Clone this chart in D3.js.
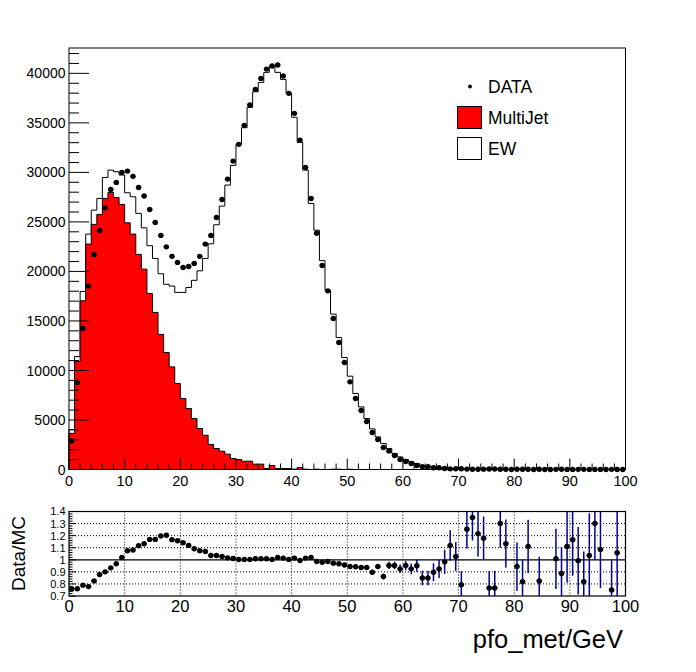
<!DOCTYPE html>
<html>
<head>
<meta charset="utf-8">
<script src="https://cdn.jsdelivr.net/npm/d3@7"></script>
<style>
  body { margin: 0; background: #fff; }
  text { font-family: "Liberation Sans", Arial, sans-serif; fill: #000; }
</style>
</head>
<body>
<div id="chart"></div>
<script>
//////////////////////////////////////////////////////////////////////////////
// Data (one value per 1 GeV bin, 0..100)

var binEdges = [0, 100];
var nBins = 100;

var dataCounts = [
  2890, 8790, 14240, 18520, 21720, 24140, 26420, 28280, 28990, 30000,
  30130, 29600, 28480, 27610, 26260, 24950, 23640, 22480, 21520, 20910,
  20400, 20500, 20810, 21520, 22760, 23640, 25450, 27270, 29320, 31140,
  32830, 34750, 36800, 38380, 39490, 40430, 40740, 40840, 39730, 37980,
  35960, 33260, 30500, 27370, 23860, 20600, 18040, 15250, 12830, 10810,
  8850, 7170, 5960, 4850, 3740, 3030, 2220, 1880, 1410, 1010,
  810, 610, 400, 280, 280, 180, 170, 105, 66, 70,
  70, 42, 30, 30, 33, 50, 50, 26, 25, 0,
  25, 30, 20, 0, 25, 0, 0, 16, 20, 11,
  12, 13, 16, 8, 12, 10, 0, 16, 6, 0
];

var multiJetCounts = [
  3650, 10900, 17030, 22760, 24750, 25760, 27370, 27980, 27470, 26770,
  24910, 23770, 21720, 20230, 17780, 15860, 13640, 11820, 10360, 8690,
  7170, 6160, 5150, 4140, 3460, 2520, 2120, 1850, 1550, 1110,
  1010, 840, 840, 540, 540, 100, 400, 100, 100, 100,
  30, 200, 30, 0, 30, 0, 0, 30, 30, 0,
  30, 0, 0, 0, 0, 0, 0, 0, 0, 0,
  0, 0, 0, 0, 0, 0, 0, 0, 0, 0,
  0, 0, 0, 0, 0, 0, 0, 0, 0, 0,
  0, 0, 0, 0, 0, 0, 0, 0, 0, 0,
  0, 0, 0, 0, 0, 0, 0, 0, 0, 0
];

var ewCounts = [
  390, 500, 950, 1010, 1440, 1610, 2120, 2250, 2590, 2960,
  3030, 3770, 4140, 4170, 4820, 5450, 6120, 6880, 8160, 9190,
  10710, 12220, 13950, 15920, 17850, 20270, 22590, 24750, 27170, 29600,
  31820, 33670, 35730, 37600, 38550, 40000, 40370, 40000, 39290, 37880,
  35530, 32830, 30200, 26860, 24130, 21090, 18110, 15660, 13300, 11310,
  9390, 7680, 6320, 5150, 4100, 3290, 2620, 2120, 1620, 1270,
  1010, 770, 600, 330, 330, 220, 180, 110, 60, 70,
  90, 35, 22, 25, 28, 65, 65, 20, 22, 10,
  27, 37, 18, 10, 30, 8, 8, 16, 23, 10,
  10, 13, 20, 8, 9, 9, 5, 21, 6, 4
];

// Data/MC ratio and its error (null = no point drawn)
var ratioValues = [
  0.758, 0.76, 0.79, 0.778, 0.825, 0.878, 0.9, 0.933, 0.967, 1.019,
  1.075, 1.081, 1.117, 1.133, 1.169, 1.169, 1.197, 1.203, 1.167, 1.158,
  1.141, 1.119, 1.091, 1.075, 1.069, 1.036, 1.036, 1.027, 1.016, 1.011,
  1.003, 1.003, 1.003, 1.008, 1.008, 1.008, 1.003, 1.019, 1.014, 1.003,
  1.014, 0.994, 1.014, 1.019, 0.986, 0.98, 0.986, 0.972, 0.967, 0.957,
  0.944, 0.942, 0.936, 0.936, 0.897, 0.944, 0.861, 0.953, 0.953, 0.925,
  0.953, 0.925, 0.95, 0.85, 0.85, 0.897, 0.925, 0.983, 1.119, 1.028,
  0.794, 1.253, 1.35, 1.217, 1.178, 0.767, 0.767, 1.3, 1.133, null,
  0.944, 0.819, 1.111, null, 0.825, null, null, 1.008, 0.886, 1.111,
  1.167, 0.992, 0.819, 1.036, 1.3, 1.086, null, 0.75, 1.058, null
];

var ratioErrors = [
  0.01, 0.01, 0.01, 0.01, 0.01, 0.01, 0.01, 0.01, 0.01, 0.01,
  0.01, 0.01, 0.01, 0.01, 0.01, 0.01, 0.01, 0.01, 0.01, 0.01,
  0.01, 0.01, 0.01, 0.01, 0.01, 0.01, 0.01, 0.01, 0.01, 0.01,
  0.01, 0.01, 0.01, 0.01, 0.01, 0.01, 0.01, 0.01, 0.01, 0.01,
  0.01, 0.01, 0.01, 0.01, 0.01, 0.01, 0.01, 0.01, 0.01, 0.012,
  0.015, 0.015, 0.015, 0.018, 0.02, 0.02, 0.025, 0.03, 0.03, 0.035,
  0.04, 0.045, 0.05, 0.06, 0.06, 0.075, 0.075, 0.1, 0.125, 0.12,
  0.11, 0.16, 0.19, 0.19, 0.18, 0.14, 0.14, 0.2, 0.2, null,
  0.2, 0.18, 0.22, null, 0.2, null, null, 0.25, 0.22, 0.3,
  0.3, 0.28, 0.25, 0.35, 0.3, 0.32, null, 0.25, 0.4, null
];

var mainYTicks = [0, 5000, 10000, 15000, 20000, 25000, 30000, 35000, 40000];
var xTicks = [0, 10, 20, 30, 40, 50, 60, 70, 80, 90, 100];
var ratioYTicks = [0.7, 0.8, 0.9, 1, 1.1, 1.2, 1.3, 1.4];
var ratioGridY = [0.8, 0.9, 1.1, 1.2, 1.3];
var ratioGridX = [10, 20, 30, 40, 50, 60, 70, 80, 90];

var legendEntries = ["DATA", "MultiJet", "EW"];

//////////////////////////////////////////////////////////////////////////////
// Preliminaries

var width = 696, height = 672;
var blue = "#000099";

var xScale = d3.scaleLinear().domain(binEdges).range([69, 625.5]);
var yScale = d3.scaleLinear().domain([0, 42560]).range([469.5, 48]);
var rScale = d3.scaleLinear().domain([0.7, 1.4]).range([596, 511.5]);

var bins = d3.range(nBins).map(function(i) {
    return {
        lo: i, hi: i + 1, mid: i + 0.5,
        data: dataCounts[i],
        mj: multiJetCounts[i],
        total: multiJetCounts[i] + ewCounts[i],
        ratio: ratioValues[i],
        rerr: ratioErrors[i]
    };
});

var svg = d3.select("#chart")
    .append("svg")
    .attr("width", width)
    .attr("height", height);

svg.append("rect")
    .attr("width", width)
    .attr("height", height)
    .attr("fill", "#fff");

function stepArea(accessor, yS) {
    var pts = bins.map(function(d) { return [d.lo, accessor(d)]; });
    pts.push([100, accessor(bins[nBins - 1])]);
    return d3.area()
        .curve(d3.curveStepAfter)
        .x(function(p) { return xScale(p[0]); })
        .y0(yS(0))
        .y1(function(p) { return yS(p[1]); })(pts);
}

//////////////////////////////////////////////////////////////////////////////
// Main panel: stacked histograms + data

var main = svg.append("g");

main.append("path")
    .attr("d", stepArea(function(d) { return d.total; }, yScale))
    .attr("fill", "#fff")
    .attr("stroke", "#000")
    .attr("stroke-width", 1);

main.append("path")
    .attr("d", stepArea(function(d) { return d.mj; }, yScale))
    .attr("fill", "#ff0000")
    .attr("stroke", "#000")
    .attr("stroke-width", 1);

main.append("g")
    .selectAll("line")
    .data(bins)
    .enter()
    .append("line")
    .attr("x1", function(d) { return xScale(d.lo); })
    .attr("x2", function(d) { return xScale(d.hi); })
    .attr("y1", function(d) { return yScale(d.data); })
    .attr("y2", function(d) { return yScale(d.data); })
    .attr("stroke", blue)
    .attr("stroke-width", 1);

main.append("g")
    .selectAll("circle")
    .data(bins)
    .enter()
    .append("circle")
    .attr("cx", function(d) { return xScale(d.mid); })
    .attr("cy", function(d) { return yScale(d.data); })
    .attr("r", 2.7)
    .attr("fill", "#000");

// frame
main.append("rect")
    .attr("x", xScale(0))
    .attr("y", yScale(42560))
    .attr("width", xScale(100) - xScale(0))
    .attr("height", yScale(0) - yScale(42560))
    .attr("fill", "none")
    .attr("stroke", "#000")
    .attr("stroke-width", 1);

// y axis: major every 5000, minor every 1000
var yMinor = d3.range(0, 42001, 1000);
main.append("g")
    .selectAll("line")
    .data(yMinor)
    .enter()
    .append("line")
    .attr("x1", xScale(0))
    .attr("x2", function(d) { return xScale(0) + (d % 5000 === 0 ? 20 : 10); })
    .attr("y1", function(d) { return yScale(d); })
    .attr("y2", function(d) { return yScale(d); })
    .attr("stroke", "#000");

main.append("g")
    .selectAll("text")
    .data(mainYTicks)
    .enter()
    .append("text")
    .attr("x", 65.5)
    .attr("y", function(d) { return yScale(d); })
    .attr("dy", "0.36em")
    .attr("text-anchor", "end")
    .attr("font-size", 14)
    .text(function(d) { return d; });

// x axis: major every 10, minor every 2
var xMinor = d3.range(0, 101, 2);
main.append("g")
    .selectAll("line")
    .data(xMinor)
    .enter()
    .append("line")
    .attr("x1", function(d) { return xScale(d); })
    .attr("x2", function(d) { return xScale(d); })
    .attr("y1", yScale(0))
    .attr("y2", function(d) { return yScale(0) - (d % 10 === 0 ? 11 : 6); })
    .attr("stroke", "#000");

main.append("g")
    .selectAll("text")
    .data(xTicks)
    .enter()
    .append("text")
    .attr("x", function(d) { return xScale(d); })
    .attr("y", 485.5)
    .attr("text-anchor", "middle")
    .attr("font-size", 14.5)
    .text(function(d) { return d; });

// legend
var legend = svg.append("g");
legend.append("circle")
    .attr("cx", 470).attr("cy", 86.5).attr("r", 1.9).attr("fill", "#000");
legend.append("rect")
    .attr("x", 457.5).attr("y", 106.5).attr("width", 24).attr("height", 22)
    .attr("fill", "#ff0000").attr("stroke", "#000");
legend.append("rect")
    .attr("x", 457.5).attr("y", 137.5).attr("width", 24).attr("height", 22)
    .attr("fill", "#fff").attr("stroke", "#000");
legend.selectAll("text")
    .data(legendEntries)
    .enter()
    .append("text")
    .attr("x", 488)
    .attr("y", function(d, i) { return [92.5, 124, 155][i]; })
    .attr("font-size", 17.5)
    .text(function(d) { return d; });

//////////////////////////////////////////////////////////////////////////////
// Ratio panel

var ratio = svg.append("g");

ratio.append("defs").append("clipPath")
    .attr("id", "rclip")
    .append("rect")
    .attr("x", xScale(0)).attr("y", rScale(1.4))
    .attr("width", xScale(100) - xScale(0))
    .attr("height", rScale(0.7) - rScale(1.4));

ratio.append("g")
    .selectAll("line")
    .data(ratioGridY)
    .enter()
    .append("line")
    .attr("x1", xScale(0)).attr("x2", xScale(100))
    .attr("y1", function(d) { return rScale(d); })
    .attr("y2", function(d) { return rScale(d); })
    .attr("stroke", "#000").attr("stroke-dasharray", "1,2");

ratio.append("g")
    .selectAll("line")
    .data(ratioGridX)
    .enter()
    .append("line")
    .attr("x1", function(d) { return xScale(d); })
    .attr("x2", function(d) { return xScale(d); })
    .attr("y1", rScale(1.4)).attr("y2", rScale(0.7))
    .attr("stroke", "#000").attr("stroke-dasharray", "1,2");

ratio.append("line")
    .attr("x1", xScale(0)).attr("x2", xScale(100))
    .attr("y1", rScale(1)).attr("y2", rScale(1))
    .attr("stroke", "#000").attr("stroke-width", 1.2);

var rPoints = bins.filter(function(d) { return d.ratio !== null; });

var rErr = ratio.append("g").attr("clip-path", "url(#rclip)");

rErr.selectAll("line.ey")
    .data(rPoints)
    .enter()
    .append("line")
    .attr("class", "ey")
    .attr("x1", function(d) { return xScale(d.mid); })
    .attr("x2", function(d) { return xScale(d.mid); })
    .attr("y1", function(d) { return rScale(d.ratio - d.rerr); })
    .attr("y2", function(d) { return rScale(d.ratio + d.rerr); })
    .attr("stroke", blue).attr("stroke-width", 1.5);

rErr.selectAll("line.ex")
    .data(rPoints)
    .enter()
    .append("line")
    .attr("class", "ex")
    .attr("x1", function(d) { return xScale(d.lo); })
    .attr("x2", function(d) { return xScale(d.hi); })
    .attr("y1", function(d) { return rScale(d.ratio); })
    .attr("y2", function(d) { return rScale(d.ratio); })
    .attr("stroke", blue).attr("stroke-width", 1);

rErr.selectAll("circle")
    .data(rPoints)
    .enter()
    .append("circle")
    .attr("cx", function(d) { return xScale(d.mid); })
    .attr("cy", function(d) { return rScale(d.ratio); })
    .attr("r", 2.7)
    .attr("fill", "#000");

ratio.append("rect")
    .attr("x", xScale(0)).attr("y", rScale(1.4))
    .attr("width", xScale(100) - xScale(0))
    .attr("height", rScale(0.7) - rScale(1.4))
    .attr("fill", "none").attr("stroke", "#000").attr("stroke-width", 1.2);

// y ticks: major 0.1, minor 0.02
var rMinor = d3.range(35, 71).map(function(k) { return k / 50; });
ratio.append("g")
    .selectAll("line")
    .data(rMinor)
    .enter()
    .append("line")
    .attr("x1", xScale(0))
    .attr("x2", function(d, i) { return xScale(0) + (i % 5 === 0 ? 7 : 3.5); })
    .attr("y1", function(d) { return rScale(d); })
    .attr("y2", function(d) { return rScale(d); })
    .attr("stroke", "#000");

ratio.append("g")
    .selectAll("text")
    .data(ratioYTicks)
    .enter()
    .append("text")
    .attr("x", 65.5)
    .attr("y", function(d) { return rScale(d); })
    .attr("dy", "0.36em")
    .attr("text-anchor", "end")
    .attr("font-size", 11)
    .text(function(d) { return d; });

ratio.append("g")
    .selectAll("text")
    .data(xTicks)
    .enter()
    .append("text")
    .attr("x", function(d) { return xScale(d); })
    .attr("y", 611.5)
    .attr("text-anchor", "middle")
    .attr("font-size", 16.5)
    .text(function(d) { return d; });

svg.append("text")
    .attr("transform", "translate(25,553.5) rotate(-90)")
    .attr("text-anchor", "middle")
    .attr("font-size", 19)
    .text("Data/MC");

svg.append("text")
    .attr("x", 623)
    .attr("y", 648)
    .attr("text-anchor", "end")
    .attr("font-size", 25.5)
    .text("pfo_met/GeV");
</script>
</body>
</html>
